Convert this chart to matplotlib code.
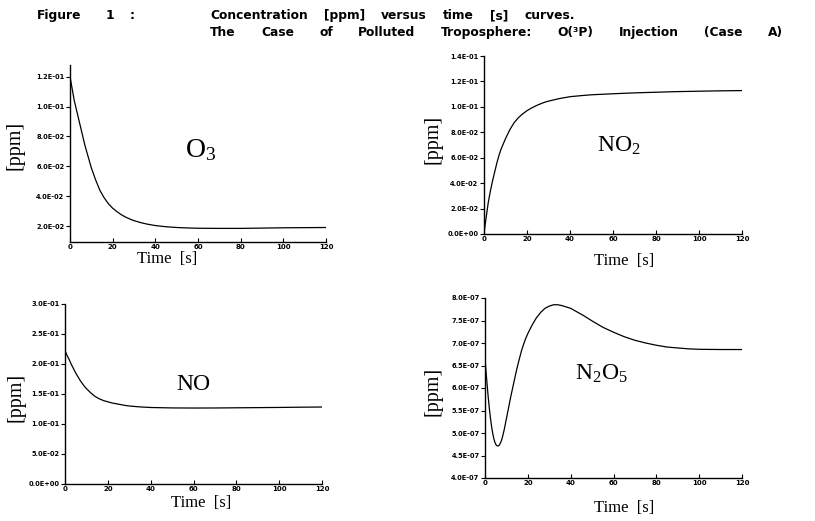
import matplotlib
matplotlib.use('Agg')
import matplotlib.pyplot as plt
from matplotlib.ticker import FuncFormatter
import numpy as np

# ---- data ----
o3_t = [0, 1, 2, 3, 4, 5, 6, 7, 8, 9, 10, 11, 12, 13, 14, 15, 16, 17, 18, 19, 20, 22, 24, 26, 28, 30,
        33, 36, 40, 45, 50, 55, 60, 70, 80, 90, 100, 110, 120]
o3_ppm = [0.120, 0.112, 0.104, 0.098, 0.092, 0.086, 0.080, 0.074, 0.069, 0.064, 0.059, 0.055, 0.051,
          0.0475, 0.044, 0.0415, 0.039, 0.037, 0.035, 0.0335, 0.032, 0.0297, 0.0277, 0.0261, 0.0248,
          0.0237, 0.0224, 0.0214, 0.0204, 0.0196, 0.0191, 0.0188, 0.0186, 0.0185, 0.0185, 0.0187,
          0.0189, 0.0190, 0.0191]

no2_t = [0, 0.5, 1, 2, 3, 4, 5, 6, 7, 8, 9, 10, 12, 14, 16, 18, 20, 22, 25, 28, 30, 35, 40, 45, 50, 60,
         70, 80, 90, 100, 110, 120]
no2_ppm = [0.0, 0.007, 0.013, 0.025, 0.034, 0.042, 0.049, 0.056, 0.062, 0.067, 0.071, 0.075, 0.082,
           0.0875, 0.0915, 0.0945, 0.097, 0.099, 0.1015, 0.1035, 0.1045, 0.1065, 0.108, 0.1088, 0.1095,
           0.1103, 0.111, 0.1115, 0.112, 0.1123, 0.1126, 0.1128]

no_t = [0, 1, 2, 3, 4, 5, 6, 7, 8, 9, 10, 12, 14, 16, 18, 20, 22, 25, 28, 30, 35, 40, 50, 60, 70, 80,
        90, 100, 110, 120]
no_ppm = [0.222, 0.214, 0.207, 0.199, 0.192, 0.185, 0.179, 0.173, 0.168, 0.163, 0.159, 0.152, 0.146,
          0.142, 0.139, 0.137, 0.135, 0.133, 0.131, 0.130, 0.1285, 0.1275, 0.1268, 0.1266, 0.1267,
          0.127, 0.1273, 0.1276, 0.128, 0.1283]

n2o5_t = [0, 0.5, 1, 1.5, 2, 2.5, 3, 3.5, 4, 4.5, 5, 5.5, 6, 6.5, 7, 7.5, 8, 9, 10, 11, 12, 13, 14, 15,
          16, 17, 18, 19, 20, 22, 24, 26, 28, 30, 32, 34, 36, 38, 40, 43, 46, 50, 55, 60, 65, 70, 75,
          80, 85, 90, 95, 100, 110, 120]
n2o5_e7 = [6.65, 6.35, 6.07, 5.80, 5.56, 5.35, 5.17, 5.02, 4.90, 4.81, 4.75, 4.72, 4.71, 4.72, 4.76,
           4.81, 4.88, 5.08, 5.32, 5.56, 5.80, 6.02, 6.24, 6.45, 6.64, 6.82, 6.97, 7.10, 7.21, 7.40,
           7.56, 7.68, 7.77, 7.82, 7.85, 7.85, 7.83, 7.80, 7.77, 7.69, 7.61, 7.49, 7.35, 7.24, 7.14,
           7.06, 7.00, 6.95, 6.91, 6.89, 6.87, 6.86, 6.855, 6.855]
n2o5_ppm = [v * 1e-7 for v in n2o5_e7]

time_ticks = [0, 20, 40, 60, 80, 100, 120]

W, H = 815, 521
plt.rcParams['mathtext.fontset'] = 'custom'
plt.rcParams['mathtext.rm'] = 'Liberation Serif'
plt.rcParams['mathtext.it'] = 'Liberation Serif'

fig = plt.figure(figsize=(W / 100, H / 100), dpi=100)


def fx(x):
    return x / W


def fy(y):
    return 1 - y / H


def panel(box, t, c, ylim, yticks, name, name_xy, name_size, ylab_xy, tlab_xy):
    left, top, right, bottom = box
    ax = fig.add_axes([fx(left), fy(bottom), (right - left) / W, (bottom - top) / H])
    ax.plot(t, c, color='black', lw=0.9)
    ax.set_xlim(0, 120)
    ax.set_ylim(*ylim)
    ax.set_xticks(time_ticks)
    ax.set_yticks(yticks)
    ax.yaxis.set_major_formatter(FuncFormatter(lambda v, p: f'{v:.1E}'))
    for s in ('top', 'right'):
        ax.spines[s].set_visible(False)
    for s in ('left', 'bottom'):
        ax.spines[s].set_linewidth(1.0)
    ax.tick_params(axis='y', direction='out', length=3, width=0.8, pad=1, labelsize=4.8)
    ax.tick_params(axis='x', direction='in', length=3, width=0.8, pad=1.5, labelsize=5)
    for lab in ax.get_xticklabels() + ax.get_yticklabels():
        lab.set_fontweight('bold')
    ax.patch.set_alpha(0)
    fig.text(fx(name_xy[0]), fy(name_xy[1]), name, fontsize=name_size,
             family='Liberation Serif', ha='left', va='baseline')
    fig.text(fx(ylab_xy[0]), fy(ylab_xy[1]), '[ppm]', fontsize=14.5, rotation=90,
             family='Liberation Serif', ha='center', va='center')
    fig.text(fx(tlab_xy[0]), fy(tlab_xy[1]), 'Time  [s]', fontsize=12,
             family='Liberation Serif', ha='left', va='baseline')
    return ax


panel((70, 65, 326, 242), o3_t, o3_ppm, (0.0094, 0.1278),
      [0.02, 0.04, 0.06, 0.08, 0.10, 0.12],
      r'O$_3$', (185, 157), 20, (15, 145), (137, 263))
panel((484, 56, 742, 234), no2_t, no2_ppm, (0, 0.14),
      [0, 0.02, 0.04, 0.06, 0.08, 0.10, 0.12, 0.14],
      r'NO$_2$', (597, 152), 17, (433, 139), (594, 265))
panel((65, 304, 322, 484), no_t, no_ppm, (0, 0.30),
      [0, 0.05, 0.10, 0.15, 0.20, 0.25, 0.30],
      'NO', (176, 390), 17, (16, 397), (171, 507))
panel((485, 298, 742, 478), n2o5_t, n2o5_ppm, (4e-7, 8e-7),
      [4e-7, 4.5e-7, 5e-7, 5.5e-7, 6e-7, 6.5e-7, 7e-7, 7.5e-7, 8e-7],
      r'N$_2$O$_5$', (575, 380), 17, (433, 391), (594, 512))

# ---- title, typewriter-like spaced words ----
line1 = ['Concentration', '[ppm]', 'versus', 'time', '[s]', 'curves.']
line2 = ['The', 'Case', 'of', 'Polluted', 'Troposphere:', 'O(³P)', 'Injection', '(Case', 'A)']
tkw = dict(fontsize=8.8, fontweight='bold', family='DejaVu Sans', va='baseline', ha='left')

fig.canvas.draw()
renderer = fig.canvas.get_renderer()


def word_widths(words):
    out = []
    for w in words:
        t = fig.text(0, 0, w, **tkw)
        out.append(t.get_window_extent(renderer).width)
        t.remove()
    return out


# spread each line between x0 and x1 like the justified typescript
for words, y, x0, x1 in ((line1, 19, 210, 575), (line2, 36, 210, 783)):
    widths = word_widths(words)
    gap = (x1 - x0 - sum(widths)) / (len(words) - 1)
    x = x0
    for w, wd in zip(words, widths):
        fig.text(fx(x), fy(y), w, **tkw)
        x += wd + gap

fig.text(fx(37), fy(19), 'Figure', **tkw)
fig.text(fx(106), fy(19), '1', **tkw)
fig.text(fx(130), fy(19), ':', **tkw)

fig.savefig('out.png', dpi=100)
